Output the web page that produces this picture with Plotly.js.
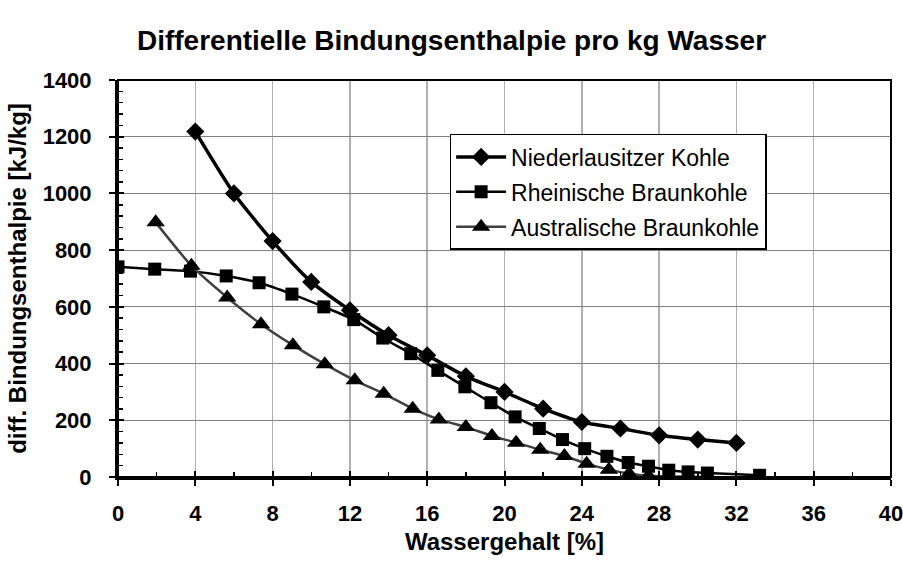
<!DOCTYPE html>
<html>
<head>
<meta charset="utf-8">
<script src="https://cdn.plot.ly/plotly-3.0.1.min.js"></script>
<style>html,body{margin:0;padding:0;background:#fff;}#chart{width:903px;height:570px;}</style>
</head>
<body>
<div id="chart"></div>
<script>
// Data
const seriesNames = ["Niederlausitzer Kohle", "Rheinische Braunkohle", "Australische Braunkohle"];

const nlX = [4, 6, 8, 10, 12, 14, 16, 18, 20, 22, 24, 26, 28, 30, 32];
const nlY = [1218, 1000, 832, 688, 588, 500, 429, 355, 300, 241, 194, 171, 147, 132, 120];

const rbX = [0, 1.9, 3.75, 5.6, 7.3, 9.0, 10.65, 12.2, 13.7, 15.15, 16.55, 17.95, 19.3, 20.55, 21.8, 23.0, 24.15, 25.3, 26.4, 27.45, 28.5, 29.5, 30.5, 33.2];
const rbY = [741, 733, 726, 709, 685, 645, 600, 555, 490, 435, 376, 318, 262, 212, 171, 132, 100, 73, 51, 38, 24, 18, 14, 6];

const auX = [1.95, 3.8, 5.65, 7.4, 9.05, 10.7, 12.25, 13.75, 15.25, 16.6, 18.0, 19.35, 20.6, 21.85, 23.1, 24.25, 25.4, 26.45, 27.45, 28.5, 29.5, 30.5];
const auY = [898, 745, 633, 539, 465, 398, 341, 294, 241, 203, 176, 145, 121, 96, 74, 47, 26, 12, 4, 2, 1, 0];

const xTickVals = [0, 4, 8, 12, 16, 20, 24, 28, 32, 36, 40];
const yTickVals = [0, 200, 400, 600, 800, 1000, 1200, 1400];

const FONT = '"Liberation Sans", Arial, sans-serif';

const traces = [
  {x: nlX, y: nlY, name: seriesNames[0], mode: 'lines+markers', legendgroup: 'a',
   line: {color: '#000', width: 3.5, shape: 'spline', smoothing: 0.6},
   marker: {symbol: 'diamond', size: 14, color: '#000'}},
  {x: rbX, y: rbY, name: seriesNames[1], mode: 'lines+markers', legendgroup: 'b',
   line: {color: '#000', width: 2.5, shape: 'spline', smoothing: 0.6},
   marker: {symbol: 'square', size: 13, color: '#000'}},
  {x: auX, y: auY, name: seriesNames[2], mode: 'lines+markers', legendgroup: 'c',
   line: {color: '#404040', width: 2.5, shape: 'spline', smoothing: 0.6},
   marker: {symbol: 'triangle-up', size: 16, color: '#000'}},
  {x: [null], y: [null], xaxis: 'x2', yaxis: 'y2', showlegend: false, hoverinfo: 'skip', mode: 'markers'}
];

const layout = {
  width: 903, height: 570,
  margin: {l: 118, r: 12, t: 80, b: 93, pad: 0},
  paper_bgcolor: '#fff', plot_bgcolor: '#fff',
  font: {family: FONT, color: '#000'},
  title: {text: 'Differentielle Bindungsenthalpie pro kg Wasser', x: 0.5, xanchor: 'center',
          y: 1 - 40 / 570, yanchor: 'middle', font: {family: FONT, size: 28, weight: 'bold', color: '#000'}},
  showlegend: true,
  legend: {x: 0.429, y: 0.864, xanchor: 'left', yanchor: 'top', bgcolor: '#fff',
           bordercolor: '#000', borderwidth: 1.5, tracegroupgap: 2, itemwidth: 50,
           font: {family: FONT, size: 23, color: '#000'}},
  xaxis: {range: [0, 40], tickvals: xTickVals, ticks: 'outside', ticklen: 6, tickwidth: 2, tickcolor: '#000',
          showline: true, linecolor: '#000', linewidth: 3, showgrid: true, gridcolor: '#b0b0b0', gridwidth: 1.5,
          zeroline: false, ticklabelstandoff: 9, ticklabeloverflow: 'allow',
          tickfont: {family: FONT, size: 22, weight: 'bold'},
          minor: {dtick: 2, ticks: 'inside', ticklen: 5, tickwidth: 1.5, tickcolor: '#000', showgrid: false},
          title: {text: 'Wassergehalt [%]', standoff: 8, font: {family: FONT, size: 24, weight: 'bold'}}},
  yaxis: {range: [0, 1400], tickvals: yTickVals, ticks: 'outside', ticklen: 6, tickwidth: 2, tickcolor: '#000',
          showline: true, linecolor: '#000', linewidth: 3, showgrid: true, gridcolor: '#808080', gridwidth: 1,
          zeroline: false, ticklabelstandoff: 13, ticklabeloverflow: 'allow',
          tickfont: {family: FONT, size: 22, weight: 'bold'},
          minor: {dtick: 40, ticks: 'inside', ticklen: 5, tickwidth: 1.5, tickcolor: '#000', showgrid: false},
          title: {text: 'diff. Bindungsenthalpie [kJ/kg]', standoff: 10, font: {family: FONT, size: 24, weight: 'bold'}}},
  xaxis2: {overlaying: 'x', anchor: 'y2', range: [0, 40], tickvals: xTickVals, ticks: 'inside', ticklen: 6,
           tickwidth: 2, tickcolor: '#000', showticklabels: false, showgrid: false, showline: false, zeroline: false},
  yaxis2: {overlaying: 'y', anchor: 'x2', side: 'left', range: [0, 1400], tickvals: yTickVals, ticks: 'inside',
           ticklen: 6, tickwidth: 2, tickcolor: '#000', showticklabels: false, showgrid: false, showline: false, zeroline: false},
  shapes: [{type: 'rect', xref: 'paper', yref: 'paper', x0: 0, x1: 1, y0: 0, y1: 1,
            line: {color: '#000', width: 2}, fillcolor: 'rgba(0,0,0,0)'}]
};

Plotly.newPlot('chart', traces, layout, {displayModeBar: false, staticPlot: true});
</script>
</body>
</html>
